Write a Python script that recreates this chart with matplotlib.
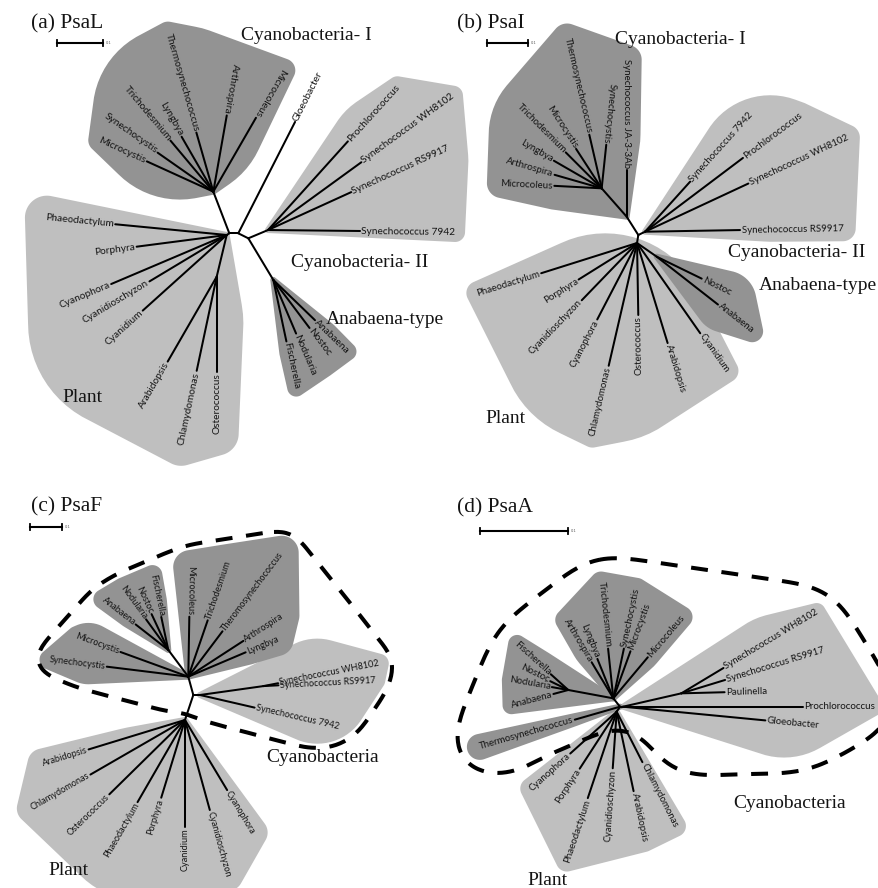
import numpy as np
import matplotlib
matplotlib.use("Agg")
from matplotlib import pyplot as plt
from matplotlib.path import Path
from matplotlib.patches import Polygon
from matplotlib.textpath import TextPath
from matplotlib.font_manager import FontProperties

DPI = 100
DARK = "#939393"
LIGHT = "#bfbfbf"
INK = "#141414"
SERIF = "Liberation Serif"

# tree edges: (node, parent, angle in degrees, branch length in px)
# internal nodes are the ones that show up as a parent

# (a) PsaL
psal_edges = [
    ("a1", "root", 111, 44.6),
    ("Microcystis", "a1", 155.5, 73),
    ("Synechocystis", "a1", 145, 68),
    ("Trichodesmium", "a1", 130, 66.7),
    ("Lyngbya", "a1", 120, 63.4),
    ("Thermosynechococcus", "a1", 106, 61.5),
    ("Arthrospira", "a1", 80, 77.4),
    ("Microcoleus", "a1", 60, 85.3),
    ("a2", "root", 0, 9),
    ("Gloeobacter", "a2", 63, 125),
    ("a3", "a2", -26.6, 11.2),
    ("a4", "a3", 22.8, 21.4),
    ("Prochlorococcus", "a4", 48, 119.3),
    ("Synechococcus WH8102", "a4", 36, 115.3),
    ("Synechococcus RS9917", "a4", 24.5, 91.4),
    ("Synechococcus 7942", "a4", -0.6, 92),
    ("a5", "a3", -59, 48.6),
    ("Anabaena", "a5", -44, 57.9),
    ("Nostoc", "a5", -53, 60.1),
    ("Nodularia", "a5", -67, 58.2),
    ("Fischerella", "a5", -78, 62.8),
    ("a6", "root", 213, 3.1),
    ("Phaeodactylum", "a6", 174.5, 112),
    ("Porphyra", "a6", 187.4, 90.8),
    ("Cyanophora", "a6", 203, 125.5),
    ("Cyanidioschyzon", "a6", 211, 90.1),
    ("Cyanidium", "a6", 222, 113),
    ("a7", "a6", 256.5, 42.9),
    ("Arabidopsis", "a7", 240, 98),
    ("Chlamydomonas", "a7", 258, 96.2),
    ("Osterococcus", "a7", 270, 95),
]
psal_cyano1 = ["Microcystis", "Synechocystis", "Trichodesmium", "Lyngbya",
               "Thermosynechococcus", "Arthrospira", "Microcoleus"]
psal_cyano2 = ["Prochlorococcus", "Synechococcus WH8102",
               "Synechococcus RS9917", "Synechococcus 7942"]
psal_anabaena = ["Anabaena", "Nostoc", "Nodularia", "Fischerella"]
psal_plant = ["Phaeodactylum", "Porphyra", "Cyanophora", "Cyanidioschyzon",
              "Cyanidium", "Arabidopsis", "Chlamydomonas", "Osterococcus"]
psal_flip = ["Microcoleus"]

# (b) PsaI
psai_edges = [
    ("b1", "root", 122.4, 21.7),
    ("Synechococcus JA-3-3Ab", "b1", 90, 47),
    ("b2", "b1", 131.4, 37.8),
    ("Synechocystis", "b2", 84, 43.8),
    ("Thermosynechococcus", "b2", 103, 55),
    ("Microcystis", "b2", 123, 47),
    ("Trichodesmium", "b2", 135, 50.8),
    ("Lyngbya", "b2", 150, 55.2),
    ("Arthrospira", "b2", 164, 49),
    ("Microcoleus", "b2", 177, 47.4),
    ("b3", "root", 26, 7.5),
    ("Synechococcus 7942", "b3", 48, 67.4),
    ("Prochlorococcus", "b3", 37, 122.6),
    ("Synechococcus WH8102", "b3", 25, 114),
    ("Synechococcus RS9917", "b3", 1, 95),
    ("b4", "root", -99, 8.1),
    ("Phaeodactylum", "b4", 197.5, 100.5),
    ("Porphyra", "b4", 212, 68.9),
    ("Cyanidioschyzon", "b4", 226, 79.6),
    ("Cyanophora", "b4", 242.5, 86.2),
    ("Chlamydomonas", "b4", 257, 126),
    ("Osterococcus", "b4", -89, 72),
    ("Arabidopsis", "b4", -73, 104.6),
    ("Cyanidium", "b4", -55, 110.2),
    ("b5", "b4", -34.8, 24),
    ("Nostoc", "b5", -26, 50),
    ("Anabaena", "b5", -38, 77.7),
]
psai_cyano1 = ["Synechococcus JA-3-3Ab", "Synechocystis", "Thermosynechococcus",
               "Microcystis", "Trichodesmium", "Lyngbya", "Arthrospira", "Microcoleus"]
psai_cyano2 = ["Synechococcus 7942", "Prochlorococcus", "Synechococcus WH8102",
               "Synechococcus RS9917"]
psai_anabaena = ["Nostoc", "Anabaena"]
psai_plant = ["Phaeodactylum", "Porphyra", "Cyanidioschyzon", "Cyanophora",
              "Chlamydomonas", "Osterococcus", "Arabidopsis", "Cyanidium"]

# (c) PsaF
psaf_edges = [
    ("c1", "root", 105.3, 19),
    ("Microcystis", "c1", 160, 72.2),
    ("Synechocystis", "c1", 173, 82.1),
    ("c2", "c1", 126.8, 33.4),
    ("Anabaena", "c2", 142, 41.4),
    ("Nodularia", "c2", 126, 37.8),
    ("Nostoc", "c2", 115, 39.5),
    ("Fischerella", "c2", 102, 33.7),
    ("Microcoleus", "c1", 89, 60),
    ("Trichodesmium", "c1", 71, 59.6),
    ("Theromosynechococcus", "c1", 53, 56.8),
    ("Arthrospira", "c1", 33, 65.7),
    ("Lyngbya", "c1", 23, 62.3),
    ("c3", "root", 0, 6.7),
    ("c4", "c3", 8, 64),
    ("Synechococcus WH8102", "c4", 11, 15),
    ("Synechococcus RS9917", "c4", 3, 15.1),
    ("Synechococcus 7942", "c3", -13, 56),
    ("c5", "root", -108.4, 26.3),
    ("Arabidopsis", "c5", 197, 100.8),
    ("Chlamydomonas", "c5", 210, 109.2),
    ("Osterococcus", "c5", 224.5, 106.1),
    ("Phaeodactylum", "c5", 240, 94.9),
    ("Porphyra", "c5", 253, 81.3),
    ("Cyanidium", "c5", -90, 106.7),
    ("Cyanidioschyzon", "c5", -74.6, 93.4),
    ("Cyanophora", "c5", -59, 81.8),
]
psaf_micro = ["Microcystis", "Synechocystis"]
psaf_anabaena = ["Anabaena", "Nodularia", "Nostoc", "Fischerella"]
psaf_filament = ["Microcoleus", "Trichodesmium", "Theromosynechococcus",
                 "Arthrospira", "Lyngbya"]
psaf_marine = ["Synechococcus WH8102", "Synechococcus RS9917", "Synechococcus 7942"]
psaf_plant = ["Arabidopsis", "Chlamydomonas", "Osterococcus", "Phaeodactylum",
              "Porphyra", "Cyanidium", "Cyanidioschyzon", "Cyanophora"]

# (d) PsaA
psaa_edges = [
    ("d1", "root", 128.6, 10.7),
    ("Arthrospira", "d1", 121, 42.1),
    ("Lyngbya", "d1", 112, 42.5),
    ("Trichodesmium", "d1", 96, 50),
    ("Synechocystis", "d1", 78, 50.8),
    ("Microcystis", "d1", 70, 50.1),
    ("Microcoleus", "d1", 50, 53.6),
    ("d2", "d1", 169.5, 45.8),
    ("Fischerella", "d2", 138, 23.5),
    ("Nostoc", "d2", 154, 20.1),
    ("Nodularia", "d2", 170, 16.7),
    ("Anabaena", "d2", 195, 15.4),
    ("Thermosynechococcus", "root", 196, 47),
    ("d3", "root", 0, 3),
    ("d4", "d3", 12.9, 59.8),
    ("Synechococcus WH8102", "d4", 31, 49.2),
    ("Synechococcus RS9917", "d4", 17, 45.8),
    ("Paulinella", "d4", 1.5, 43.3),
    ("Prochlorococcus", "d3", 0, 180),
    ("Gloeobacter", "d3", -5.5, 143),
    ("d5", "root", -123.4, 6),
    ("Cyanophora", "d5", 222, 62.5),
    ("Porphyra", "d5", 237, 67.9),
    ("Phaeodactylum", "d5", 251.5, 91.1),
    ("Cyanidioschyzon", "d5", 266, 56.7),
    ("Arabidopsis", "d5", -78, 81.2),
    ("Chlamydomonas", "d5", -63, 56.6),
]
psaa_filament = ["Arthrospira", "Lyngbya", "Trichodesmium", "Synechocystis",
                 "Microcystis", "Microcoleus"]
psaa_anabaena = ["Fischerella", "Nostoc", "Nodularia", "Anabaena"]
psaa_thermo = ["Thermosynechococcus"]
psaa_marine = ["Synechococcus WH8102", "Synechococcus RS9917", "Paulinella",
               "Prochlorococcus", "Gloeobacter"]
psaa_plant = ["Cyanophora", "Porphyra", "Phaeodactylum", "Cyanidioschyzon",
              "Arabidopsis", "Chlamydomonas"]


def place_nodes(edges, root):
    pos = {"root": np.array(root, float)}
    ang = {}
    for node, parent, a, length in edges:
        t = np.radians(a)
        pos[node] = pos[parent] + length * np.array([np.cos(t), -np.sin(t)])
        ang[node] = a
    return pos, ang


def cross(o, a, b):
    return (a[0] - o[0]) * (b[1] - o[1]) - (a[1] - o[1]) * (b[0] - o[0])


def convex_hull(pts):
    pts = np.unique(np.round(pts, 3), axis=0)

    def half(seq):
        out = []
        for p in seq:
            while len(out) >= 2 and cross(out[-2], out[-1], p) <= 0:
                out.pop()
            out.append(p)
        return out

    lower = half(pts)
    upper = half(pts[::-1])
    return np.array(lower[:-1] + upper[:-1])


def blob(centers, radii, n=72):
    t = np.linspace(0, 2 * np.pi, n, endpoint=False)
    ring = [np.c_[c[0] + r * np.cos(t), c[1] + r * np.sin(t)]
            for c, r in zip(centers, radii)]
    return convex_hull(np.vstack(ring))


def gauss_blur(z, sigma):
    r = int(3 * sigma)
    k = np.exp(-0.5 * (np.arange(-r, r + 1) / sigma) ** 2)
    k /= k.sum()
    z = np.apply_along_axis(lambda v: np.convolve(v, k, mode="same"), 0, z)
    z = np.apply_along_axis(lambda v: np.convolve(v, k, mode="same"), 1, z)
    return z


def draw_tree(ax, edges, root, groups, leaf_pt, flips=(), outline=None):
    pos, ang = place_nodes(edges, root)
    parents = {p for _, p, _, _ in edges}
    leaves = [n for n, _, _, _ in edges if n not in parents]
    font = FontProperties(family="Lato", size=leaf_pt)
    size_px = leaf_pt * DPI / 72

    ends = {}
    for name in leaves:
        a = (ang[name] + 180) % 360 - 180
        t = np.radians(a)
        d = np.array([np.cos(t), -np.sin(t)])
        start = pos[name] + 1.5 * d
        w = TextPath((0, 0), name, size=size_px, prop=font).get_extents().width
        ends[name] = start + w * d
        upright = -87 < a < 79
        if name in flips:
            upright = not upright
        if upright:
            ax.text(start[0], start[1], name, rotation=a, ha="left", va="center",
                    rotation_mode="anchor", fontproperties=font, color=INK, zorder=4)
        else:
            ax.text(start[0], start[1], name, rotation=a + 180, ha="right", va="center",
                    rotation_mode="anchor", fontproperties=font, color=INK, zorder=4)

    for node, parent, _, _ in edges:
        p0, p1 = pos[parent], pos[node]
        ax.plot([p0[0], p1[0]], [p0[1], p1[1]], color="black", lw=1.45,
                solid_capstyle="round", zorder=3)

    # each clade gets a teardrop: narrow at its stem node, round around the labels
    shapes = []
    for members, anchor, color, pad in groups:
        tips = np.array([pos[m] for m in members])
        heads = np.array([ends[m] for m in members])
        centers = [pos[anchor]]
        radii = [3]
        if len(members) > 1:
            middle = np.vstack([tips, heads]).mean(axis=0)
            reach = np.hypot(*(heads - middle).T).max()
            centers.append(middle)
            radii.append(0.78 * reach)
        for t_, h_ in zip(tips, heads):
            centers += [t_, h_]
            radii += [pad * 0.5, pad]
        poly = blob(centers, radii)
        ax.add_patch(Polygon(poly, closed=True, facecolor=color, edgecolor="none",
                             zorder=1 if color == LIGHT else 1.5))
        shapes.append(poly)

    # dashed ring around the cyanobacterial clades: their hull with the
    # plant clade (plus a margin) cut away, smoothed and pushed outwards
    if outline is not None:
        which, cut, (x0, x1, y0, y1), carve, grow, level = outline
        xs = np.arange(x0, x1, 2.0)
        ys = np.arange(y0, y1, 2.0)
        X, Y = np.meshgrid(xs, ys)
        grid = np.c_[X.ravel(), Y.ravel()]

        def inside(poly):
            return Path(poly).contains_points(grid).reshape(X.shape)

        hull = convex_hull(np.vstack([shapes[i] for i in which]))
        plant = gauss_blur(inside(shapes[cut]).astype(float), carve) > 0.1
        keep = inside(hull) & ~plant
        for i in which:
            keep |= inside(shapes[i])
        Z = gauss_blur(keep.astype(float), grow)
        cs = ax.contour(X, Y, Z, levels=[level])
        for p in cs.get_paths():
            for seg in p.to_polygons(closed_only=False):
                ax.plot(seg[:, 0], seg[:, 1], color="black", lw=2.9,
                        dashes=(4.2, 3.4), zorder=6)
        cs.remove()


def scale_bar(ax, x, y, length):
    ax.plot([x, x + length], [y, y], color="black", lw=1.5, zorder=3)
    for xx in (x, x + length):
        ax.plot([xx, xx], [y - 2.6, y + 2.6], color="black", lw=1.3, zorder=3)
    ax.text(x + length + 2.5, y, "0.1", fontsize=2.6, color="#555555",
            ha="left", va="center")


fig = plt.figure(figsize=(8.79, 8.88), dpi=DPI)
ax = fig.add_axes([0, 0, 1, 1])
ax.set_xlim(0, 879)
ax.set_ylim(888, 0)
ax.set_axis_off()

# (a) PsaL
draw_tree(ax, psal_edges, (229.3, 233.3),
          [(psal_plant, "a6", LIGHT, 22),
           (psal_cyano2, "a4", LIGHT, 10),
           (psal_cyano1, "a1", DARK, 12),
           (psal_anabaena, "a5", DARK, 9)],
          leaf_pt=7.3, flips=psal_flip)

# (b) PsaI
draw_tree(ax, psai_edges, (638.3, 235),
          [(psai_plant, "b4", LIGHT, 12),
           (psai_cyano2, "b3", LIGHT, 13),
           (psai_cyano1, "b1", DARK, 15),
           (psai_anabaena, "b5", DARK, 11)],
          leaf_pt=7.0)

# (c) PsaF
draw_tree(ax, psaf_edges, (193.3, 695),
          [(psaf_plant, "c5", LIGHT, 15),
           (psaf_marine, "c3", LIGHT, 10),
           (psaf_micro, "c1", DARK, 10),
           (psaf_anabaena, "c2", DARK, 10),
           (psaf_filament, "c1", DARK, 17)],
          leaf_pt=6.6,
          outline=([1, 2, 3, 4], 0, (-60, 480, 430, 920), 5.0, 5.0, 0.3))

# (d) PsaA
draw_tree(ax, psaa_edges, (620, 706.7),
          [(psaa_plant, "d5", LIGHT, 11),
           (psaa_marine, "d3", LIGHT, 9),
           (psaa_filament, "d1", DARK, 11),
           (psaa_anabaena, "d1", DARK, 9),
           (psaa_thermo, "root", DARK, 13)],
          leaf_pt=7.0,
          outline=([1, 2, 3, 4], 0, (400, 980, 430, 920), 10.0, 10.0, 0.2))

titles = [("(a) PsaL", 31, 24), ("(b) PsaI", 457, 24),
          ("(c) PsaF", 31, 507), ("(d) PsaA", 457, 508)]
for text, x, y in titles:
    ax.text(x, y, text, family=SERIF, fontsize=15.5, color=INK,
            ha="left", va="center", zorder=5)

scale_bar(ax, 57, 43, 46)
scale_bar(ax, 487, 43, 41)
scale_bar(ax, 30, 527, 32)
scale_bar(ax, 480, 531, 88)

clade_labels = [
    ("Cyanobacteria- I", 306, 35), ("Cyanobacteria- II", 360, 262),
    ("Anabaena-type", 385, 319), ("Plant", 82, 397),
    ("Cyanobacteria- I", 680, 39), ("Cyanobacteria- II", 797, 252),
    ("Anabaena-type", 818, 285), ("Plant", 505, 418),
    ("Cyanobacteria", 323, 757), ("Plant", 68, 870),
    ("Cyanobacteria", 790, 803), ("Plant", 547, 880),
]
for text, x, y in clade_labels:
    ax.text(x, y, text, family=SERIF, fontsize=14, color=INK,
            ha="center", va="center", zorder=5)

fig.savefig("out.png", dpi=DPI)
